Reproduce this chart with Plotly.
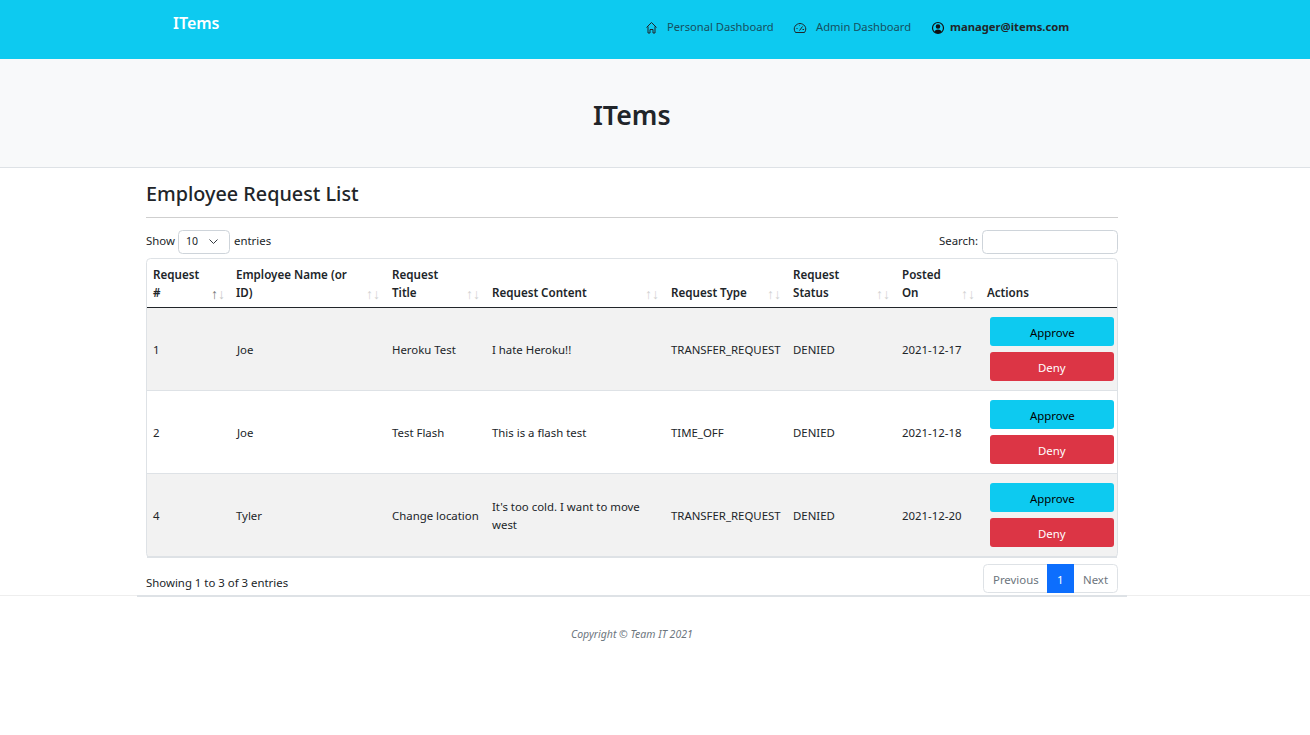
"""Employee request list page, drawn in page pixels on a hidden axis pair."""

import plotly.graph_objects as go

RES_X = 1310
RES_Y = 735
FONT = "Noto Sans"

# page content
BRAND = "ITems"
NAV_LINKS = ["Personal Dashboard", "Admin Dashboard"]
NAV_USER = "manager@items.com"
PAGE_TITLE = "Employee Request List"
HEADERS = [
    ["Request", "#"],
    ["Employee Name (or", "ID)"],
    ["Request", "Title"],
    ["Request Content"],
    ["Request Type"],
    ["Request", "Status"],
    ["Posted", "On"],
    ["Actions"],
]
REQUEST_IDS = ["1", "2", "4"]
EMPLOYEES = ["Joe", "Joe", "Tyler"]
TITLES = ["Heroku Test", "Test Flash", "Change location"]
CONTENTS = [["I hate Heroku!!"], ["This is a flash test"], ["It's too cold. I want to move", "west"]]
TYPES = ["TRANSFER_REQUEST", "TIME_OFF", "TRANSFER_REQUEST"]
STATUSES = ["DENIED", "DENIED", "DENIED"]
POSTED = ["2021-12-17", "2021-12-18", "2021-12-20"]
PAGES = ["Previous", "1", "Next"]
INFO_TEXT = "Showing 1 to 3 of 3 entries"
COPYRIGHT = "Copyright © Team IT 2021"

# layout, in page pixels
COL_LEFT = [153, 236, 391.5, 491.5, 670.5, 792.5, 901.5, 987]
SORT_RIGHT = [225, 379.5, 479.5, 658.5, 780.5, 889.5, 974.5]
ROW_TOP = [308, 391, 474]
ROW_HEIGHT = 83
BODY_SIZE = 11.4

CYAN = "#0dcaf0"
RED = "#dc3545"
TEXT = "#212529"
BORDER = "#dee2e6"
STRIPE = "#f2f2f2"

shapes = []
annotations = []


def rect(x0, y0, x1, y1, fill):
    shapes.append(dict(type="rect", xref="x", yref="y", x0=x0, y0=y0, x1=x1, y1=y1,
                       fillcolor=fill, line=dict(width=0), layer="below"))


def round_rect(x0, y0, x1, y1, r, fill="rgba(0,0,0,0)", line=None):
    path = (f"M{x0+r},{y0} L{x1-r},{y0} Q{x1},{y0} {x1},{y0+r} L{x1},{y1-r} Q{x1},{y1} {x1-r},{y1} "
            f"L{x0+r},{y1} Q{x0},{y1} {x0},{y1-r} L{x0},{y0+r} Q{x0},{y0} {x0+r},{y0} Z")
    shapes.append(dict(type="path", xref="x", yref="y", path=path, fillcolor=fill, layer="below",
                       line=dict(width=1 if line else 0, color=line or fill)))


def icon(path, color=TEXT, fill="rgba(0,0,0,0)", width=1):
    shapes.append(dict(type="path", xref="x", yref="y", path=path, fillcolor=fill,
                       line=dict(width=width, color=color)))


def label(x, y, text, size=BODY_SIZE, color=TEXT, anchor="left", weight=400, style="normal"):
    annotations.append(dict(x=x, y=y, xref="x", yref="y", text=text, showarrow=False,
                            xanchor=anchor, yanchor="middle", borderpad=0, borderwidth=0,
                            font=dict(family=FONT, size=size, color=color, weight=weight, style=style)))


# page bands
rect(0, 0, RES_X, 59, CYAN)
rect(0, 59, RES_X, 167, "#f8f9fa")
rect(0, 167, RES_X, 168, BORDER)
rect(146, 217, 1118, 218, "#cfcfcf")
rect(0, 595, RES_X, 596, "#eeeeee")
rect(137, 595, 1127, 597, BORDER)

# navbar
label(173, 22.5, BRAND, size=16, color="white", weight=600)
icon("M646.5,27.5 L651.5,22.5 L656.5,27.5 M648,26.5 L648,33 L650,33 L650,29.5 L653,29.5 L653,33 L655,33 L655,26.5")
label(667, 26.5, NAV_LINKS[0], size=11.2, color="#16505f")
icon("M795.5,32.5 C792,27.5 796.5,23.5 800,23.5 C803.5,23.5 808,27.5 804.5,32.5 Z "
     "M799.5,30.5 L802.5,26.5 M796.5,28.5 L797.5,28.5 M802.5,29.5 L804,29.5 M799.5,25.5 L800,25.5")
label(816, 26.5, NAV_LINKS[1], size=11.2, color="#16505f")
shapes.append(dict(type="circle", xref="x", yref="y", x0=932.5, y0=22.5, x1=943.5, y1=33.5,
                   fillcolor="rgba(0,0,0,0)", line=dict(width=1.2, color="#111111")))
shapes.append(dict(type="circle", xref="x", yref="y", x0=935.7, y0=24.2, x1=940.3, y1=28.8,
                   fillcolor="#111111", line=dict(width=0)))
icon("M934.5,32 C935.5,28.8 940.5,28.8 941.5,32 C940,33.6 936,33.6 934.5,32 Z", color="#111111", fill="#111111", width=0)
label(950, 26.5, NAV_USER, size=11.25, weight=700)

# titles
label(632, 114.5, BRAND, size=26.7, anchor="center", weight=600)
label(146, 193.5, PAGE_TITLE, size=19.8, weight=500)

# table controls
label(146, 240.5, "Show")
round_rect(178.5, 230.5, 229.5, 253.5, 4, fill="white", line="#ced4da")
label(186, 240.5, "10", size=10.5)
icon("M209.5,239.5 L213.5,243.5 L217.5,239.5", color="#343a40")
label(233.5, 240.5, "entries")
label(939, 240.5, "Search:")
round_rect(982.5, 230.5, 1117.5, 253.5, 4, fill="white", line="#ced4da")

# table body
for top, fill in zip(ROW_TOP, [STRIPE, "white", STRIPE]):
    rect(147, top, 1117, top + ROW_HEIGHT - 1, fill)
    rect(147, top + ROW_HEIGHT - 1, 1117, top + ROW_HEIGHT, BORDER)
rect(147, 307, 1117, 308, "#212529")
rect(147, 556, 1117, 558, BORDER)
round_rect(146.5, 258.5, 1117.5, 557.5, 4, line=BORDER)

# table header
for i, lines in enumerate(HEADERS):
    for j, line in enumerate(reversed(lines)):
        label(COL_LEFT[i], 292.5 - 18 * j, line, size=11.6, weight=600)
for i, right in enumerate(SORT_RIGHT):
    # one text per column, the sorted column has its up arrow darker
    up_color = "#777777" if i == 0 else "#d2d2d2"
    down_color = "#c8c8c8" if i == 0 else "#d2d2d2"
    arrows = f'<span style="color:{up_color}">↑</span><span style="color:{down_color}">↓</span>'
    label(right, 293, arrows, size=14, anchor="right")

# table rows
for r, top in enumerate(ROW_TOP):
    mid = top + 41.5
    columns = [REQUEST_IDS[r], EMPLOYEES[r], TITLES[r], None, TYPES[r], STATUSES[r], POSTED[r]]
    for c, value in enumerate(columns):
        if value is not None:
            label(COL_LEFT[c], mid, value)
    lines = CONTENTS[r]
    for j, line in enumerate(lines):
        label(COL_LEFT[3], mid + (j - (len(lines) - 1) / 2) * 18, line)
    round_rect(990, top + 9, 1114, top + 38, 3, fill=CYAN)
    label(1052, top + 24.5, "Approve", color="black", anchor="center")
    round_rect(990, top + 44, 1114, top + 73, 3, fill=RED)
    label(1052, top + 59.5, "Deny", color="white", anchor="center")

# footer of the table
label(146, 582.5, INFO_TEXT)
round_rect(983.5, 564.5, 1117.5, 592.5, 4, fill="white", line=BORDER)
rect(1047, 564, 1074, 593, "#0d6efd")
label(1016, 579.5, PAGES[0], color="#6c757d", anchor="center")
label(1060.5, 579.5, PAGES[1], color="white", anchor="center")
label(1095.5, 579.5, PAGES[2], color="#6c757d", anchor="center")
label(632, 634, COPYRIGHT, size=10.5, color="#6c757d", anchor="center", style="italic")

fig = go.Figure()
fig.update_layout(
    width=RES_X,
    height=RES_Y,
    margin=dict(l=0, r=0, t=0, b=0),
    paper_bgcolor="white",
    plot_bgcolor="white",
    showlegend=False,
    hovermode=False,
    xaxis=dict(range=[0, RES_X], visible=False, domain=[0, 1], fixedrange=True),
    yaxis=dict(range=[RES_Y, 0], visible=False, domain=[0, 1], fixedrange=True),
    shapes=shapes,
    annotations=annotations,
)
fig.write_html("out.html", config=dict(displayModeBar=False),
               post_script="document.body.style.margin='0';document.body.style.overflow='hidden';")
